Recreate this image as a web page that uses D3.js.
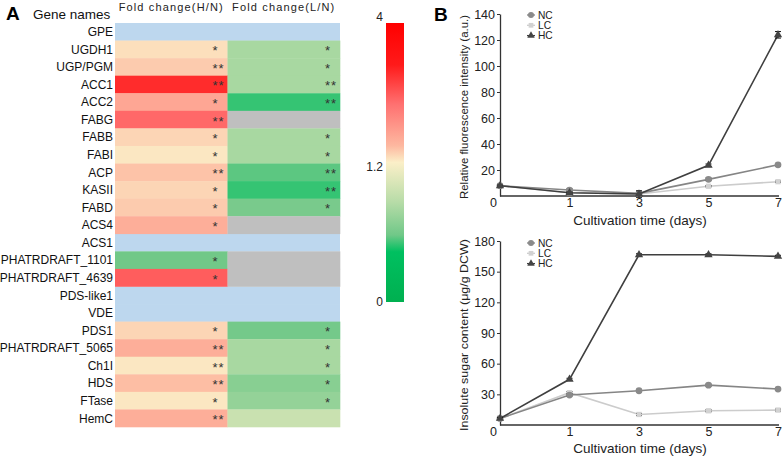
<!DOCTYPE html>
<html><head><meta charset="utf-8">
<script src="https://cdn.jsdelivr.net/npm/d3@7"></script>
<style>
body{margin:0;background:#fff;}
svg{display:block;font-family:"Liberation Sans",Arial,sans-serif;}
</style></head>
<body><svg id="c" width="784" height="457"></svg>
<script>
// ---------- Panel A data ----------
const genes = ["GPE","UGDH1","UGP/PGM","ACC1","ACC2","FABG","FABB","FABI","ACP","KASII","FABD","ACS4","ACS1",
  "PHATRDRAFT_1101","PHATRDRAFT_4639","PDS-like1","VDE","PDS1","PHATRDRAFT_5065","Ch1I","HDS","FTase","HemC"];
const columns = ["Fold change(H/N)","Fold change(L/N)"];
// null = not detected in that comparison (grey); rows listed in notDetected are shown blue across both columns
const notDetected = ["GPE","ACS1","PDS-like1","VDE"];
const foldHN = [null,1.3,1.42,3.0,1.75,2.45,1.36,1.25,1.47,1.36,1.42,1.65,null,0.58,2.55,null,null,1.36,1.65,1.25,1.5,1.25,1.65];
const foldLN = [null,0.8,0.8,0.8,0.5,null,0.8,0.8,0.55,0.5,0.61,null,null,null,null,null,null,0.59,0.8,0.8,0.67,0.72,0.95];
const sigHN = ["","*","**","**","*","**","*","*","**","*","*","*","","*","*","","","*","**","**","**","*","**"];
const sigLN = ["","*","*","**","**","","*","*","**","**","*","","","","","","","*","*","*","*","*",""];
const colorbarTicks = [0, 1.2, 4];
const colorStopValues = [0, 0.432, 0.576, 0.864, 1.2, 1.536, 2.376, 3.16, 4];
const colorStopColors = ["#00b050","#00c060","#70c888","#b8dca8","#fbefc8","#fdb8a0","#ff7070","#ff1a1a","#ff0000"];

// ---------- Panel B data ----------
const days = ["0","1","3","5","7"];
const fluorNC = [7.9, 4.6, 2.0, 12.8, 24.0];
const fluorLC = [7.9, 2.5, 1.5, 7.5, 11.0];
const fluorHC = [7.9, 2.5, 1.5, 23.6, 124.0];
const fluorErrNC = [0.5, 1.0, 0.5, 1.0, 1.0];
const fluorErrLC = [0.5, 0.5, 0.5, 0.5, 0.5];
const fluorErrHC = [0.5, 0.5, 2.5, 1.0, 2.5];
const fluorTicks = [20,40,60,80,100,120,140];
const sugarNC = [6.4, 29.3, 33.5, 39.0, 35.2];
const sugarLC = [6.4, 31.6, 10.3, 13.9, 14.6];
const sugarHC = [6.4, 44.7, 166.5, 166.5, 165.0];
const sugarErr = [1, 1, 1, 1, 1];
const sugarTicks = [30,60,90,120,150,180];
const seriesNames = ["NC","LC","HC"];

const svg = d3.select("#c");

// ================= Panel A =================
const color = d3.scaleLinear().domain(colorStopValues).range(colorStopColors).clamp(true);
const y = d3.scaleBand().domain(genes).range([23, 427]).paddingInner(0);
const x = d3.scaleBand().domain(columns).range([115, 340]);

svg.append("text").attr("x",6).attr("y",20).attr("font-size",19).attr("font-weight","bold").text("A");
svg.append("text").attr("x",33).attr("y",19).attr("font-size",13.5).attr("fill","#111").text("Gene names");
svg.selectAll("text.colh").data(columns).enter().append("text").attr("class","colh")
  .attr("x",d=>x(d)+x.bandwidth()/2).attr("y",11).attr("text-anchor","middle")
  .attr("font-size",11).attr("letter-spacing",1.15).attr("fill","#222").text(d=>d);

const cells = [];
genes.forEach((g,i)=>{
  if (notDetected.includes(g)) return;
  cells.push({g, col:columns[0], v:foldHN[i], s:sigHN[i]});
  cells.push({g, col:columns[1], v:foldLN[i], s:sigLN[i]});
});
svg.selectAll("rect.nd").data(notDetected).enter().append("rect")
  .attr("x",x.range()[0]).attr("width",x.range()[1]-x.range()[0])
  .attr("y",d=>y(d)).attr("height",y.bandwidth()+0.3).attr("fill","#bdd7ee");
svg.selectAll("rect.cell").data(cells).enter().append("rect").attr("class","cell")
  .attr("x",d=>x(d.col)).attr("width",x.bandwidth()+0.3)
  .attr("y",d=>y(d.g)).attr("height",y.bandwidth()+0.3)
  .attr("fill",d=>d.v==null?"#bfbfbf":color(d.v));
svg.selectAll("text.sig").data(cells.filter(d=>d.s)).enter().append("text")
  .attr("x",d=>x(d.col)+x.bandwidth()-(d.s.length===2?9:12)).attr("y",d=>y(d.g)+y.bandwidth()/2+6)
  .attr("text-anchor","middle").attr("font-size",13).attr("letter-spacing",1).attr("fill","#333").text(d=>d.s);
svg.selectAll("text.gene").data(genes).enter().append("text")
  .attr("x",113).attr("y",d=>y(d)+y.bandwidth()/2+4.3).attr("text-anchor","end")
  .attr("font-size",12).attr("fill","#111").text(d=>d);

// colorbar
const defs = svg.append("defs");
const grad = defs.append("linearGradient").attr("id","cb").attr("x1",0).attr("y1",1).attr("x2",0).attr("y2",0);
const tOf = d3.scaleLinear().domain([0,1.2,4]).range([0,0.5,1]);
colorStopValues.forEach((v,i)=>grad.append("stop").attr("offset",tOf(v)).attr("stop-color",colorStopColors[i]));
svg.append("rect").attr("x",386).attr("y",23).attr("width",18).attr("height",279).attr("fill","url(#cb)");
const cbY = d3.scaleLinear().domain([0,1.2,4]).range([301,166,16]);
svg.selectAll("text.cbt").data(colorbarTicks).enter().append("text")
  .attr("x",383).attr("y",d=>cbY(d)+4.5).attr("text-anchor","end").attr("font-size",12).attr("fill","#222").text(d=>d);

// ================= Panel B =================
svg.append("text").attr("x",434).attr("y",21).attr("font-size",19).attr("font-weight","bold").text("B");

const xB = d3.scalePoint().domain(days).range([500, 778]);
const styles = {
  NC:{line:"#858585", fill:"#8a8a8a", sym:d3.symbolCircle, size:36},
  LC:{line:"#cccccc", fill:"#d2d2d2", sym:d3.symbolSquare, size:28},
  HC:{line:"#3f3f3f", fill:"#444444", sym:d3.symbolTriangle, size:30}
};

function panel(yScale, ticks, series, errs, ylabel, labelLen, legendY, xLabelY) {
  const g = svg.append("g");
  const yAx = g.append("g").attr("transform",`translate(${xB.range()[0]},0)`)
    .call(d3.axisLeft(yScale).tickValues(ticks).tickSize(3).tickSizeOuter(0).tickPadding(2));
  const xAx = g.append("g").attr("transform",`translate(0,${yScale.range()[0]})`)
    .call(d3.axisBottom(xB).tickSize(0).tickPadding(2.5));
  xAx.select(".domain").attr("d",`M${xB.range()[0]},0H${xB.range()[1]+1}`);
  [yAx,xAx].forEach(a=>{
    a.select(".domain").attr("stroke","#333").attr("stroke-width",1.3);
    a.selectAll(".tick line").attr("stroke","#333");
    a.selectAll(".tick text").attr("font-size",12.5).attr("fill","#222").attr("font-family","'Liberation Sans',Arial,sans-serif");
  });
  xAx.selectAll(".tick").filter(d=>d==="0").select("text").attr("dx",-7);
  // axis labels
  g.append("text").attr("x",640).attr("y",xLabelY).attr("text-anchor","middle").attr("font-size",13.5).attr("fill","#222")
    .text("Cultivation time (days)");
  const yc = (yScale.range()[0]+yScale.range()[1])/2 + 2;
  g.append("text").attr("transform",`translate(468,${yc}) rotate(-90)`).attr("text-anchor","middle")
    .attr("font-size",11.8).attr("fill","#222").attr("textLength",labelLen).attr("lengthAdjust","spacingAndGlyphs").text(ylabel);
  const line = d3.line().x((d,i)=>xB(days[i])).y(d=>yScale(d));
  ["LC","NC","HC"].forEach(name=>{
    const vals = series[name], st = styles[name], er = errs[name];
    g.append("path").datum(vals).attr("d",line).attr("fill","none").attr("stroke",st.line).attr("stroke-width",1.6);
    vals.forEach((v,i)=>{
      const cx = xB(days[i]);
      const e = er[i];
      g.append("path").attr("d",`M${cx},${yScale(v-e)}V${yScale(v+e)}M${cx-3},${yScale(v-e)}h6M${cx-3},${yScale(v+e)}h6`)
        .attr("stroke","#111").attr("stroke-width",1);
      g.append("path").attr("d",d3.symbol(st.sym, st.size)()).attr("transform",`translate(${cx},${yScale(v)})`)
        .attr("fill",st.fill);
    });
  });
  // legend
  seriesNames.forEach((name,i)=>{
    const st = styles[name], ly = legendY + i*10.3;
    g.append("line").attr("x1",527).attr("x2",535).attr("y1",ly).attr("y2",ly).attr("stroke",st.line).attr("stroke-width",1.3);
    g.append("path").attr("d",d3.symbol(st.sym, st.size*0.8)()).attr("transform",`translate(531,${ly})`).attr("fill",st.fill);
    g.append("text").attr("x",538).attr("y",ly+3.6).attr("font-size",10.2).attr("fill","#222").text(name);
  });
}

const yTop = d3.scaleLinear().domain([0,140]).range([196,14]);
panel(yTop, fluorTicks, {NC:fluorNC, LC:fluorLC, HC:fluorHC}, {NC:fluorErrNC, LC:fluorErrLC, HC:fluorErrHC},
  "Relative fluorescence intensity (a.u.)", 184, 15, 225);
const yBot = d3.scaleLinear().domain([0,180]).range([425,241]);
panel(yBot, sugarTicks, {NC:sugarNC, LC:sugarLC, HC:sugarHC}, {NC:sugarErr, LC:sugarErr, HC:sugarErr},
  "Insolute sugar content (\u03bcg/g DCW)", 192, 243, 453);
</script></body></html>
